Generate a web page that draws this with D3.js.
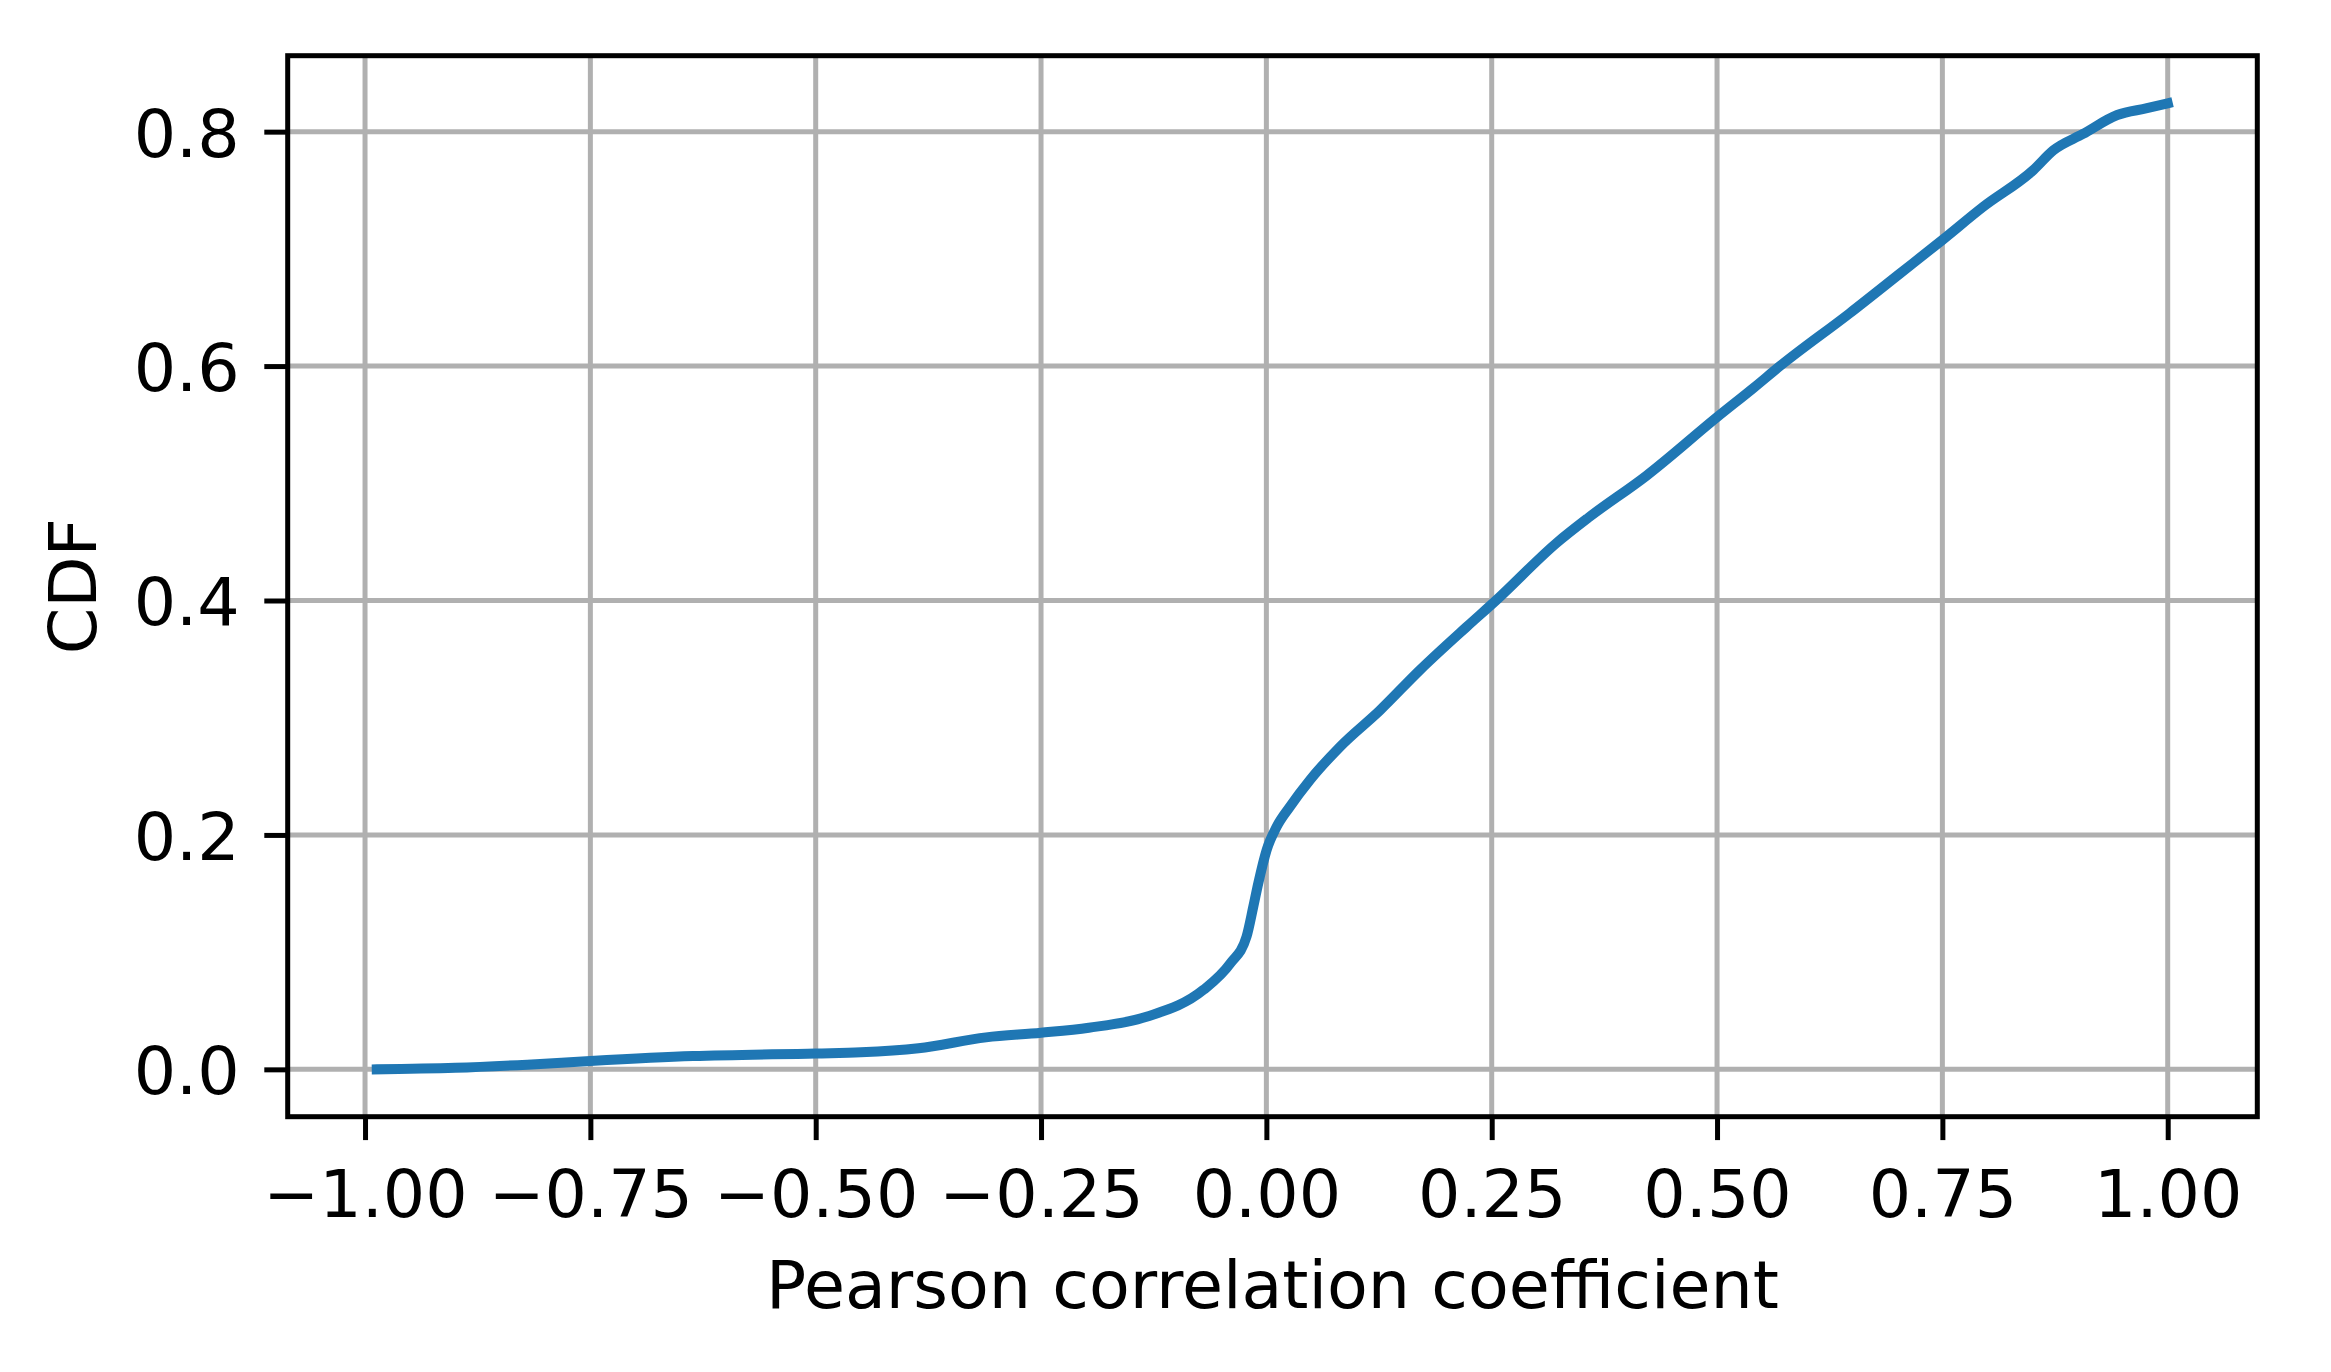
<!DOCTYPE html>
<html>
<head>
<meta charset="utf-8">
<script src="https://cdn.jsdelivr.net/npm/d3@7"></script>
<style>
  html, body { margin: 0; padding: 0; background: #fff; }
  svg { display: block; font-family: "DejaVu Sans", sans-serif; }
</style>
</head>
<body>
<div id="chart"></div>
<script>
// CDF of the Pearson correlation coefficient
const coeff = [-0.987, -0.90, -0.82, -0.75, -0.636, -0.5, -0.45, -0.386, -0.311, -0.25,
  -0.197, -0.133, -0.070, -0.040, -0.022, -0.0145, -0.009, 0.0003, 0.0114, 0.026,
  0.0485, 0.0818, 0.126, 0.170, 0.222, 0.255, 0.3226, 0.357, 0.4217, 0.5,
  0.5406, 0.5703, 0.647, 0.703, 0.75, 0.7955, 0.851, 0.873, 0.906, 0.944, 0.977, 1.0];
const cdf = [0.000, 0.0013, 0.004, 0.0071, 0.0113, 0.0136, 0.0145, 0.018, 0.0273, 0.0312,
  0.0355, 0.0449, 0.0677, 0.0904, 0.1132, 0.1388, 0.1587, 0.1872, 0.207, 0.224,
  0.247, 0.2753, 0.3063, 0.3404, 0.3774, 0.4002, 0.4495, 0.4705, 0.5065, 0.5564,
  0.5814, 0.6003, 0.645, 0.679, 0.7076, 0.736, 0.7673, 0.784, 0.798, 0.8142, 0.82, 0.8242];
const xTicks = [-1, -0.75, -0.5, -0.25, 0, 0.25, 0.5, 0.75, 1];
const yTicks = [0, 0.2, 0.4, 0.6, 0.8];

const width = 2331, height = 1372;
const box = { left: 287.7, right: 2257.3, top: 55.7, bottom: 1116.7 };
const fontSize = 66.7;
const tickLen = 23.4;

const data = coeff.map((c, i) => ({ x: c, y: cdf[i] }));

const x = d3.scaleLinear().domain([-1.0858, 1.0994]).range([box.left, box.right]);
const y = d3.scaleLinear().domain([-0.0404, 0.8648]).range([box.bottom, box.top]);

const svg = d3.select("#chart").append("svg")
  .attr("width", width)
  .attr("height", height)
  .attr("viewBox", [0, 0, width, height]);

// grid
svg.append("g")
  .selectAll("line")
  .data(xTicks)
  .join("line")
  .attr("x1", d => x(d)).attr("x2", d => x(d))
  .attr("y1", box.top).attr("y2", box.bottom)
  .attr("stroke", "#b0b0b0")
  .attr("stroke-width", 5);

svg.append("g")
  .selectAll("line")
  .data(yTicks)
  .join("line")
  .attr("x1", box.left).attr("x2", box.right)
  .attr("y1", d => y(d)).attr("y2", d => y(d))
  .attr("stroke", "#b0b0b0")
  .attr("stroke-width", 5);

// curve
const line = d3.line()
  .x(d => x(d.x))
  .y(d => y(d.y))
  .curve(d3.curveMonotoneX);

svg.append("path")
  .datum(data)
  .attr("fill", "none")
  .attr("stroke", "#1f77b4")
  .attr("stroke-width", 10)
  .attr("stroke-linecap", "square")
  .attr("stroke-linejoin", "round")
  .attr("d", line);

// axes
svg.append("g")
  .attr("transform", `translate(0,${box.bottom})`)
  .call(d3.axisBottom(x).tickValues(xTicks).tickFormat(d3.format(".2f")).tickSize(tickLen))
  .call(g => g.select(".domain").remove())
  .call(g => g.selectAll(".tick line").attr("stroke", "#000").attr("stroke-width", 5))
  .call(g => g.selectAll(".tick text")
    .attr("y", 100).attr("dy", 0)
    .attr("fill", "#000")
    .attr("font-size", fontSize))
  .attr("font-family", null);

svg.append("g")
  .attr("transform", `translate(${box.left},0)`)
  .call(d3.axisLeft(y).tickValues(yTicks).tickFormat(d3.format(".1f")).tickSize(tickLen))
  .call(g => g.select(".domain").remove())
  .call(g => g.selectAll(".tick line").attr("stroke", "#000").attr("stroke-width", 5))
  .call(g => g.selectAll(".tick text")
    .attr("x", -48).attr("dy", "0.365em")
    .attr("fill", "#000")
    .attr("font-size", fontSize))
  .attr("font-family", null);

// frame
svg.append("rect")
  .attr("x", box.left).attr("y", box.top)
  .attr("width", box.right - box.left)
  .attr("height", box.bottom - box.top)
  .attr("fill", "none")
  .attr("stroke", "#000")
  .attr("stroke-width", 5)
  .attr("stroke-linejoin", "miter");

// labels
svg.append("text")
  .attr("x", (box.left + box.right) / 2)
  .attr("y", 1308.3)
  .attr("text-anchor", "middle")
  .attr("font-size", fontSize)
  .text("Pearson correlation coefficient");

svg.append("text")
  .attr("transform", `translate(96,${(box.top + box.bottom) / 2}) rotate(-90)`)
  .attr("text-anchor", "middle")
  .attr("font-size", fontSize)
  .text("CDF");
</script>
</body>
</html>
